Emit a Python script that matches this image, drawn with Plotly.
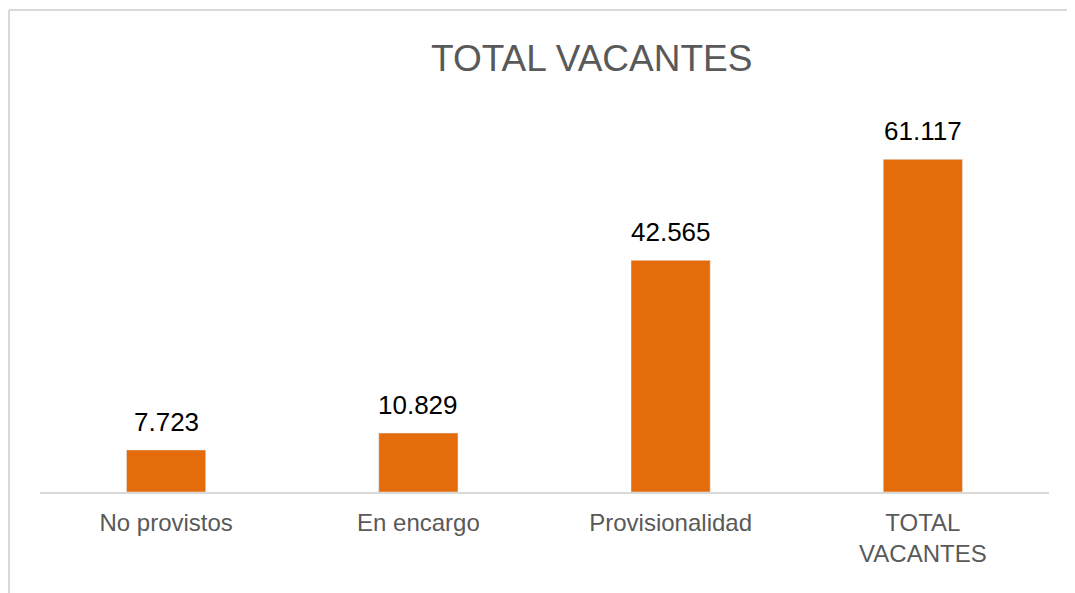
import plotly.graph_objects as go

categories = ["No provistos", "En encargo", "Provisionalidad", "TOTAL<br>VACANTES"]
values = [7723, 10829, 42565, 61117]
labels = ["7.723", "10.829", "42.565", "61.117"]

# page body adds an 8px offset; positions below are in figure pixels
W, H = 1075, 593
L, R, T, B = 32, 34, 103, 109
PW, PH = W - L - R, H - T - B

def px(x):
    return (x - L) / PW

def py(y):
    return (H - B - y) / PH

fig = go.Figure()
fig.add_trace(go.Bar(
    x=categories, y=values, marker_color="#E46C0A", width=0.314,
    hoverinfo="skip",
))

for c, v, t in zip(categories, values, labels):
    fig.add_annotation(x=c, y=v, text=t, showarrow=False, yanchor="bottom",
                       yshift=11, font=dict(family="Liberation Sans, Arial", size=26, color="#000000"))

fig.add_annotation(xref="paper", yref="paper", x=px(583), y=py(50),
                   text="TOTAL VACANTES", showarrow=False, xanchor="center", yanchor="middle",
                   font=dict(family="Liberation Sans, Arial", size=37, color="#595959"))

# chart border (top and left visible)
fig.add_shape(type="line", xref="paper", yref="paper",
              x0=px(1), x1=px(1200), y0=py(2), y1=py(2),
              line=dict(color="#d9d9d9", width=2))
fig.add_shape(type="line", xref="paper", yref="paper",
              x0=px(1), x1=px(1), y0=py(700), y1=py(2),
              line=dict(color="#d9d9d9", width=2))

fig.update_layout(
    width=W, height=H, margin=dict(l=L, r=R, t=T, b=B),
    paper_bgcolor="white", plot_bgcolor="white", showlegend=False,
    font=dict(family="Liberation Sans, Arial", size=24, color="#595959"),
)
fig.update_xaxes(showline=True, linecolor="#d9d9d9", linewidth=2, ticks="", showgrid=False,
                 tickfont=dict(size=24, color="#595959"), ticklabelstandoff=8)
fig.update_yaxes(range=[0, 70000], visible=False, showgrid=False)

fig.write_html("out.html")
